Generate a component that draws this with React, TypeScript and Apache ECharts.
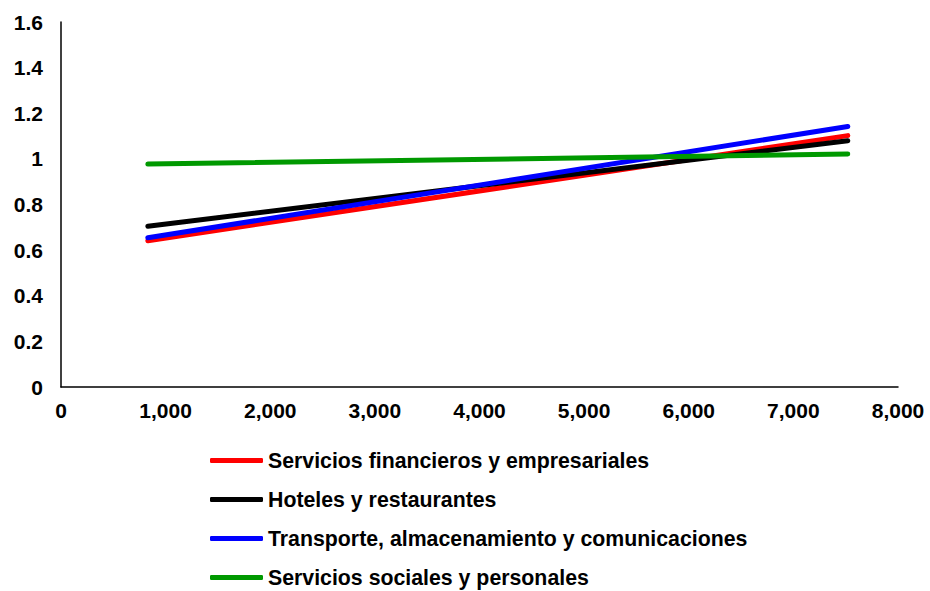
import React, { useEffect, useRef } from "react";
import * as echarts from "echarts";

const seriesNames = [
  "Servicios financieros y empresariales",
  "Hoteles y restaurantes",
  "Transporte, almacenamiento y comunicaciones",
  "Servicios sociales y personales",
];
const seriesColors = ["#FF0000", "#000000", "#0000FF", "#009900"];
const xStart = 830;
const xEnd = 7520;
const startValues = [0.641, 0.705, 0.654, 0.977];
const endValues = [1.102, 1.079, 1.142, 1.021];

const FONT = "'Liberation Sans', Arial, sans-serif";

export default function App() {
  const ref = useRef<HTMLDivElement>(null);
  useEffect(() => {
    document.body.style.margin = "0";
    const chart = echarts.init(ref.current!, null, { renderer: "svg" });
    chart.setOption({
      animation: false,
      backgroundColor: "#ffffff",
      textStyle: { fontFamily: FONT },
      grid: { left: 61, right: 32, top: 22, bottom: 204, containLabel: false },
      xAxis: {
        type: "value",
        min: 0,
        max: 8000,
        interval: 1000,
        axisLine: { show: true, lineStyle: { color: "#000", width: 1.5 } },
        axisTick: { show: false },
        splitLine: { show: false },
        axisLabel: {
          margin: 13,
          fontSize: 21,
          fontWeight: "bold",
          color: "#000",
          fontFamily: FONT,
          formatter: (v: number) => v.toLocaleString("en-US"),
        },
      },
      yAxis: {
        type: "value",
        min: 0,
        max: 1.6,
        interval: 0.2,
        axisLine: { show: true, lineStyle: { color: "#000", width: 1.5 } },
        axisTick: { show: false },
        splitLine: { show: false },
        axisLabel: {
          margin: 18,
          fontSize: 21,
          fontWeight: "bold",
          color: "#000",
          fontFamily: FONT,
          formatter: (v: number) => String(Math.round(v * 10) / 10),
        },
      },
      legend: {
        orient: "vertical",
        left: 210,
        top: 450,
        height: 200,
        padding: 0,
        itemWidth: 53,
        itemHeight: 5,
        itemGap: 18,
        icon: "roundRect",
        textStyle: { fontSize: 21.3, fontWeight: "bold", color: "#000", fontFamily: FONT },
        data: seriesNames,
      },
      series: seriesNames.map((name, i) => ({
        name,
        type: "line",
        showSymbol: false,
        symbol: "none",
        color: seriesColors[i],
        lineStyle: { width: 5, color: seriesColors[i], cap: "round" },
        data: [
          [xStart, startValues[i]],
          [xEnd, endValues[i]],
        ],
      })),
    });
    return () => chart.dispose();
  }, []);
  return <div ref={ref} style={{ width: 930, height: 591 }} />;
}
